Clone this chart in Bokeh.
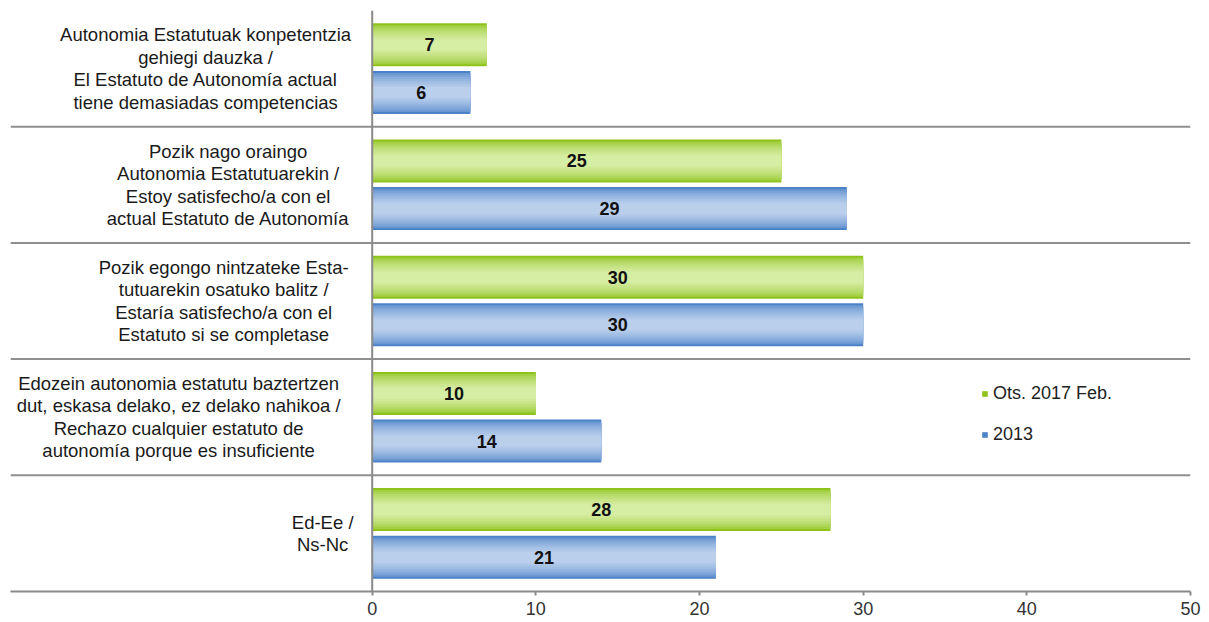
from bokeh.plotting import figure
from bokeh.models import Range1d, Span, FixedTicker, Legend, LegendItem, ColumnDataSource
from bokeh.core.properties import value
from bokeh.embed import file_html
from bokeh.resources import INLINE

categories = [
    "Autonomia Estatutuak konpetentzia\ngehiegi dauzka /\nEl Estatuto de Autonomía actual\ntiene demasiadas competencias",
    "Pozik nago oraingo\nAutonomia Estatutuarekin /\nEstoy satisfecho/a con el\nactual Estatuto de Autonomía",
    "Pozik egongo nintzateke Esta-\ntutuarekin osatuko balitz /\nEstaría satisfecho/a con el\nEstatuto si se completase",
    "Edozein autonomia estatutu baztertzen\ndut, eskasa delako, ez delako nahikoa /\nRechazo cualquier estatuto de\nautonomía porque es insuficiente",
    "Ed-Ee /\nNs-Nc",
]
series_names = ["Ots. 2017 Feb.", "2013"]
values_2017 = [7, 25, 30, 10, 28]
values_2013 = [6, 29, 30, 14, 21]
x_ticks = [0, 10, 20, 30, 40, 50]

FONT = "Liberation Sans"
n = len(categories)
XMIN, XMAX = -22.1, 50

p = figure(width=1208, height=622, output_backend="svg", toolbar_location=None,
           x_range=Range1d(XMIN, XMAX), y_range=Range1d(0, n),
           x_axis_location="below", y_axis_location=None,
           min_border_left=10, min_border_right=18, min_border_top=10, min_border_bottom=31)
p.outline_line_color = None
p.xgrid.visible = False
p.ygrid.visible = False
p.background_fill_color = "white"
p.border_fill_color = "white"

ax = p.xaxis[0]
ax.ticker = FixedTicker(ticks=x_ticks)
ax.axis_line_color = "#8a8a8a"
ax.axis_line_width = 2
ax.major_tick_line_color = "#8a8a8a"
ax.major_tick_line_width = 2
ax.major_tick_in = 0
ax.major_tick_out = 4
ax.minor_tick_line_color = None
ax.major_label_text_font = FONT
ax.major_label_text_font_size = "18px"
ax.major_label_text_color = "#333333"
ax.major_label_standoff = 6

# separators
for k in range(1, n):
    p.add_layout(Span(location=k, dimension="width", line_color="#8f8f8f", line_width=2))
p.add_layout(Span(location=0, dimension="height", line_color="#8a8a8a", line_width=2))

centers = [n - 0.5 - i for i in range(n)]
off = 0.205
bh = 0.37
y_g = [c + off for c in centers]
y_b = [c - off for c in centers]


def blend(c1, c2, t):
    a = [int(c1[i:i + 2], 16) for i in (1, 3, 5)]
    b = [int(c2[i:i + 2], 16) for i in (1, 3, 5)]
    return "#%02x%02x%02x" % tuple(round(a[k] + (b[k] - a[k]) * t) for k in range(3))


steps = 9
fracs = [1.0 - 0.75 * k / (steps - 1) for k in range(steps)]
green_layers = [(f, blend("#8fc31c", "#d6eda4", (k / (steps - 1)) ** 0.6)) for k, f in enumerate(fracs)]
blue_layers = [(f, blend("#4c82c8", "#bacfec", (k / (steps - 1)) ** 0.6)) for k, f in enumerate(fracs)]

src_g = ColumnDataSource(dict(y=y_g, right=values_2017, mid=[v / 2 for v in values_2017],
                              lab=[str(v) for v in values_2017]))
src_b = ColumnDataSource(dict(y=y_b, right=values_2013, mid=[v / 2 for v in values_2013],
                              lab=[str(v) for v in values_2013]))

rg = None
rb = None
for f, col in green_layers:
    r = p.hbar(y="y", right="right", left=0, height=bh * f, source=src_g,
               fill_color=col, line_color=None)
    if rg is None:
        rg = r
for f, col in blue_layers:
    r = p.hbar(y="y", right="right", left=0, height=bh * f, source=src_b,
               fill_color=col, line_color=None)
    if rb is None:
        rb = r

for src in (src_g, src_b):
    p.text(x="mid", y="y", text="lab", source=src, text_align="center", text_baseline="middle",
           text_font=value(FONT), text_font_size="18px", text_font_style="bold", text_color="#111111")

# category labels (centred lines, block right-aligned near the axis)
px_per_unit = 818 / 50
line_step = 22.5 / 116.2
lx, ly, lt = [], [], []
for i, lab in enumerate(categories):
    lines = lab.split("\n")
    maxlen = max(len(s) for s in lines)
    cx_px = -18 - maxlen * 9.0 / 2
    cx = cx_px / px_per_unit
    m = len(lines)
    for j, s in enumerate(lines):
        lx.append(cx)
        ly.append(centers[i] + ((m - 1) / 2 - j) * line_step)
        lt.append(s)
p.text(x=lx, y=ly, text=lt, text_align="center", text_baseline="middle",
       text_font=value(FONT), text_font_size="18.5px", text_color="#1a1a1a")

legend = Legend(items=[LegendItem(label=series_names[0], renderers=[rg]),
                       LegendItem(label=series_names[1], renderers=[rb])],
                location=(971, 146), orientation="vertical")
legend.background_fill_alpha = 0
legend.border_line_color = None
legend.padding = 0
legend.margin = 0
legend.spacing = 20
legend.label_height = 20
legend.glyph_width = 7
legend.glyph_height = 7
legend.label_standoff = 5
legend.label_text_font = FONT
legend.label_text_font_size = "18px"
legend.label_text_color = "#222222"
p.add_layout(legend)

open("out.html", "w").write(file_html(p, INLINE))
